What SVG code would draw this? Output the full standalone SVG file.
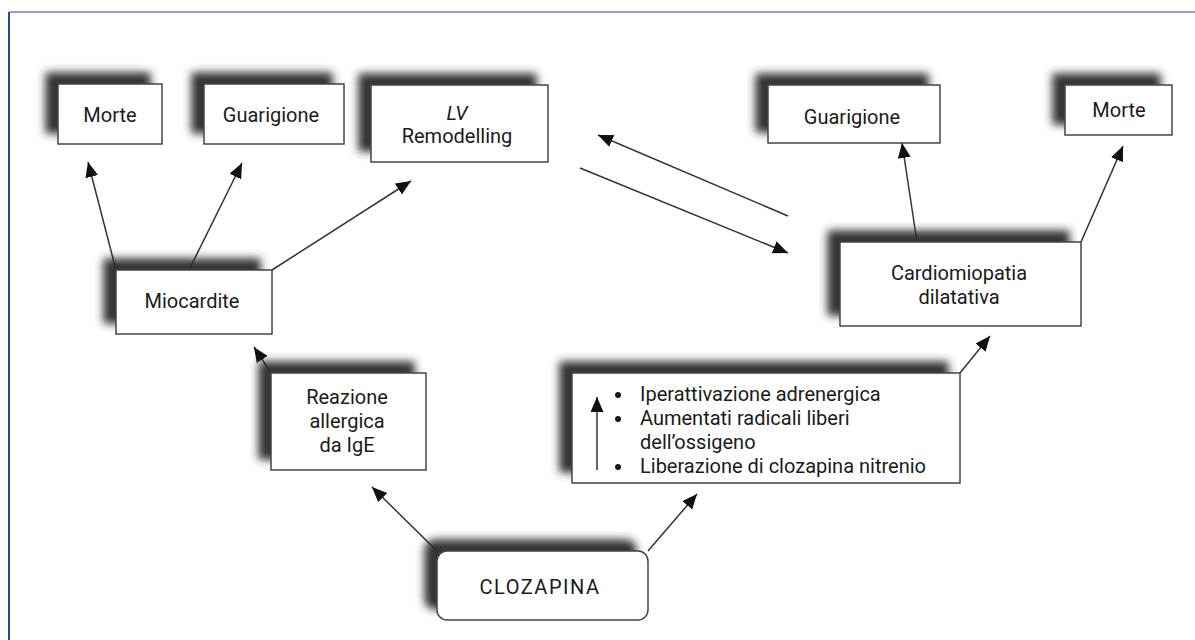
<svg xmlns="http://www.w3.org/2000/svg" width="1195" height="640" viewBox="0 0 1195 640">
<style>
.box{fill:#fff;stroke:#444;stroke-width:1.5}
.t{font-family:Roboto,"Liberation Sans",sans-serif;font-size:20px;fill:#1a1a1a}
.c{text-anchor:middle}
.conn line{stroke:#333;stroke-width:1.5;marker-end:url(#ah)}
</style>
<defs>
<filter id="sh" x="-30%" y="-40%" width="160%" height="180%">
<feOffset in="SourceAlpha" dx="-12" dy="-11" result="o"/>
<feGaussianBlur in="o" stdDeviation="4" result="b"/>
<feFlood flood-color="#2a2a2a" flood-opacity="0.95"/>
<feComposite in2="b" operator="in" result="s"/>
<feMerge><feMergeNode in="s"/><feMergeNode in="SourceGraphic"/></feMerge>
</filter>
<marker id="ah" markerUnits="userSpaceOnUse" markerWidth="16" markerHeight="14" refX="15" refY="6.5" orient="auto">
<path d="M0,0 L15,6.5 L0,13 Z" fill="#111"/>
</marker>
</defs>
<rect x="0" y="0" width="1195" height="640" fill="#fff"/>
<line x1="9" y1="12" x2="1195" y2="12" stroke="#6a86aa" stroke-width="1.5"/>
<line x1="9" y1="12" x2="9" y2="640" stroke="#2a4a7f" stroke-width="2"/>

<g id="connectors" class="conn">
<line x1="116" y1="270" x2="88" y2="162"/>
<line x1="189" y1="270" x2="242" y2="163"/>
<line x1="272" y1="270" x2="411" y2="181"/>
<line x1="580" y1="168" x2="788" y2="253"/>
<line x1="788" y1="216" x2="598" y2="135"/>
<line x1="917" y1="242" x2="902" y2="143"/>
<line x1="1081" y1="242" x2="1123" y2="146"/>
<line x1="271" y1="373" x2="254" y2="347"/>
<line x1="960" y1="373" x2="990" y2="336"/>
<line x1="437" y1="551" x2="372" y2="487"/>
<line x1="648" y1="551" x2="697" y2="494"/>
</g>

<g id="morte-l">
<rect class="box" x="58" y="84" width="104" height="60" filter="url(#sh)"/>
<text class="t c" x="110" y="122">Morte</text>
</g>
<g id="guarigione-l">
<rect class="box" x="204" y="84" width="140" height="60" filter="url(#sh)"/>
<text class="t c" x="271" y="122">Guarigione</text>
</g>
<g id="lv-remodelling">
<rect class="box" x="371" y="85" width="177" height="77" filter="url(#sh)"/>
<text class="t c" x="457" y="120" font-style="italic">LV</text>
<text class="t c" x="457" y="143">Remodelling</text>
</g>
<g id="guarigione-r">
<rect class="box" x="768" y="85" width="172" height="58" filter="url(#sh)"/>
<text class="t c" x="852" y="124">Guarigione</text>
</g>
<g id="morte-r">
<rect class="box" x="1065" y="85" width="107" height="50" filter="url(#sh)"/>
<text class="t c" x="1119" y="117">Morte</text>
</g>
<g id="miocardite">
<rect class="box" x="116" y="270" width="156" height="64" filter="url(#sh)"/>
<text class="t c" x="192" y="308">Miocardite</text>
</g>
<g id="cardiomiopatia">
<rect class="box" x="840" y="242" width="241" height="84" filter="url(#sh)"/>
<text class="t c" x="959" y="280">Cardiomiopatia</text>
<text class="t c" x="959" y="304">dilatativa</text>
</g>
<g id="reazione">
<rect class="box" x="271" y="373" width="155" height="97" filter="url(#sh)"/>
<text class="t c" x="347" y="404">Reazione</text>
<text class="t c" x="347" y="428">allergica</text>
<text class="t c" x="347" y="452">da IgE</text>
</g>
<g id="meccanismi">
<rect class="box" x="572" y="373" width="388" height="110" filter="url(#sh)"/>
<line x1="597" y1="470" x2="597" y2="397" stroke="#333" stroke-width="1.5" marker-end="url(#ah)"/>
<circle cx="618" cy="395" r="3" fill="#1a1a1a"/>
<circle cx="618" cy="419" r="3" fill="#1a1a1a"/>
<circle cx="618" cy="467" r="3" fill="#1a1a1a"/>
<text class="t" x="640" y="401">Iperattivazione adrenergica</text>
<text class="t" x="640" y="425">Aumentati radicali liberi</text>
<text class="t" x="640" y="449">dell’ossigeno</text>
<text class="t" x="640" y="473">Liberazione di clozapina nitrenio</text>
</g>
<g id="clozapina">
<rect class="box" x="437" y="551" width="211" height="69" rx="10" filter="url(#sh)"/>
<text class="t c" x="540" y="594" font-size="22" letter-spacing="1.5">CLOZAPINA</text>
</g>
</svg>
